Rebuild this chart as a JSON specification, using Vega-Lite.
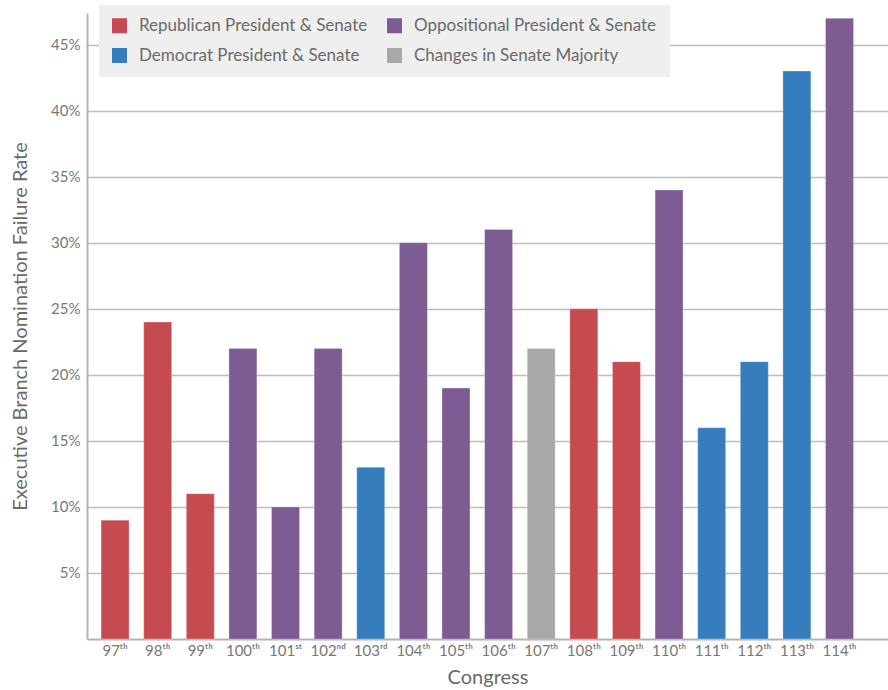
{
  "$schema": "https://vega.github.io/schema/vega-lite/v6.json",
  "width": 801,
  "height": 626,
  "autosize": {"type": "none"},
  "padding": {"left": 87, "top": 13, "right": 0, "bottom": 51},
  "background": "#ffffff",
  "config": {
    "font": "Lato",
    "view": {"stroke": null},
    "axis": {"domainColor": "#b3b3b3", "domainWidth": 2, "gridColor": "#bdbdbd", "gridWidth": 1.5, "labelColor": "#777777", "titleColor": "#6a6a6a", "titleFontWeight": "normal", "labelFont": "Lato", "titleFont": "Lato"}
  },
  "data": {
    "values": [
      {"congress": "97ᵗʰ", "rate": 9, "control": "Republican President & Senate"},
      {"congress": "98ᵗʰ", "rate": 24, "control": "Republican President & Senate"},
      {"congress": "99ᵗʰ", "rate": 11, "control": "Republican President & Senate"},
      {"congress": "100ᵗʰ", "rate": 22, "control": "Oppositional President & Senate"},
      {"congress": "101ˢᵗ", "rate": 10, "control": "Oppositional President & Senate"},
      {"congress": "102ⁿᵈ", "rate": 22, "control": "Oppositional President & Senate"},
      {"congress": "103ʳᵈ", "rate": 13, "control": "Democrat President & Senate"},
      {"congress": "104ᵗʰ", "rate": 30, "control": "Oppositional President & Senate"},
      {"congress": "105ᵗʰ", "rate": 19, "control": "Oppositional President & Senate"},
      {"congress": "106ᵗʰ", "rate": 31, "control": "Oppositional President & Senate"},
      {"congress": "107ᵗʰ", "rate": 22, "control": "Changes in Senate Majority"},
      {"congress": "108ᵗʰ", "rate": 25, "control": "Republican President & Senate"},
      {"congress": "109ᵗʰ", "rate": 21, "control": "Republican President & Senate"},
      {"congress": "110ᵗʰ", "rate": 34, "control": "Oppositional President & Senate"},
      {"congress": "111ᵗʰ", "rate": 16, "control": "Democrat President & Senate"},
      {"congress": "112ᵗʰ", "rate": 21, "control": "Democrat President & Senate"},
      {"congress": "113ᵗʰ", "rate": 43, "control": "Democrat President & Senate"},
      {"congress": "114ᵗʰ", "rate": 47, "control": "Oppositional President & Senate"}
    ]
  },
  "mark": {"type": "bar", "stroke": "#ffffff", "strokeOpacity": 0.35, "strokeWidth": 0.8},
  "encoding": {
    "x": {
      "field": "congress",
      "type": "ordinal",
      "sort": null,
      "scale": {"paddingInner": 0.344, "paddingOuter": 0.57, "align": 0.29},
      "axis": {"title": "Congress", "titleFontSize": 20, "titlePadding": 9, "labelFontSize": 15, "labelAngle": 0, "labelPadding": 4, "ticks": false, "domain": true}
    },
    "y": {
      "field": "rate",
      "type": "quantitative",
      "scale": {"domain": [0, 47.4], "nice": false},
      "axis": {"title": "Executive Branch Nomination Failure Rate", "titleFontSize": 20, "titlePadding": 20, "labelFontSize": 15, "labelPadding": 7, "ticks": false, "values": [5, 10, 15, 20, 25, 30, 35, 40, 45], "labelExpr": "datum.value + '%'", "grid": true}
    },
    "color": {
      "field": "control",
      "type": "nominal",
      "scale": {
        "domain": ["Republican President & Senate", "Oppositional President & Senate", "Democrat President & Senate", "Changes in Senate Majority"],
        "range": ["#c64b51", "#7d5b93", "#357dbd", "#a7a8aa"]
      },
      "legend": {
        "title": null,
        "orient": "none",
        "legendX": 12,
        "legendY": -8,
        "direction": "horizontal",
        "columns": 2,
        "symbolType": "square",
        "symbolSize": 225,
        "symbolStrokeWidth": 0,
        "labelFontSize": 17,
        "labelColor": "#6a6a6a",
        "labelOffset": 11,
        "columnPadding": 18,
        "rowPadding": 12,
        "padding": 12,
        "fillColor": "#efefef",
        "strokeColor": "#eeeeee",
        "labelLimit": 400
      }
    }
  }
}
